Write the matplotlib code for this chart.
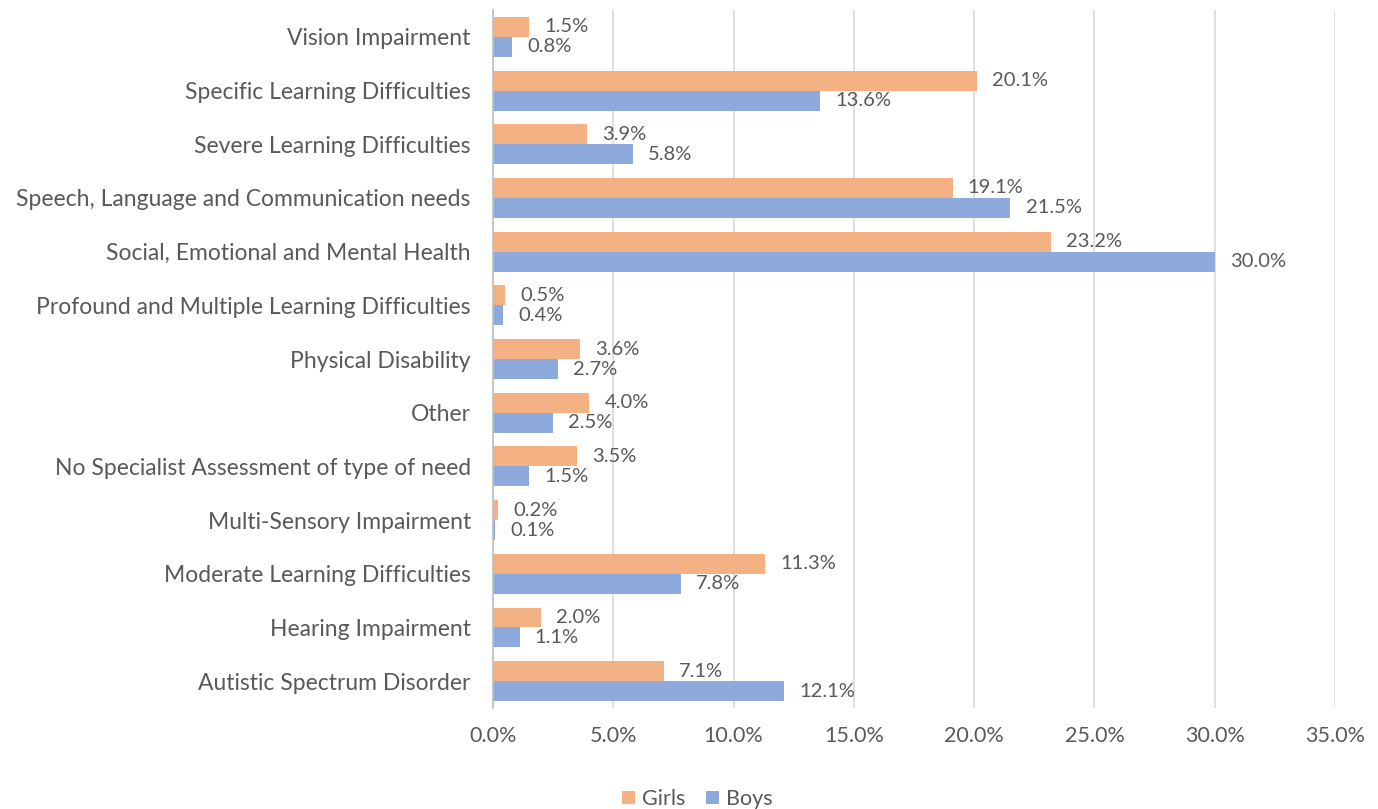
import numpy as np
import matplotlib.pyplot as plt

# 유형별 비율 (위에서 아래 순서)
categories = ['Vision Impairment', 'Specific Learning Difficulties', 'Severe Learning Difficulties',
              'Speech, Language and Communication needs', 'Social, Emotional and Mental Health',
              'Profound and Multiple Learning Difficulties', 'Physical Disability', 'Other',
              'No Specialist Assessment of type of need', 'Multi-Sensory Impairment',
              'Moderate Learning Difficulties', 'Hearing Impairment', 'Autistic Spectrum Disorder']
girls = [1.5, 20.1, 3.9, 19.1, 23.2, 0.5, 3.6, 4.0, 3.5, 0.2, 11.3, 2.0, 7.1]
boys = [0.8, 13.6, 5.8, 21.5, 30.0, 0.4, 2.7, 2.5, 1.5, 0.1, 7.8, 1.1, 12.1]
xticks = [0, 5, 10, 15, 20, 25, 30, 35]

plt.rcParams['font.family'] = ['Lato', 'DejaVu Sans']
text_c = '#595959'
girl_c = '#F4B183'
boy_c = '#8EA9DB'

fig = plt.figure(figsize=(13.78, 8.09), dpi=100)
ax = fig.add_axes([0.3578, 0.1248, 0.611, 0.8628])

y = np.arange(len(categories))
h = 0.372
ax.barh(y - h / 2, girls, height=h, color=girl_c, label='Girls')
ax.barh(y + h / 2, boys, height=h, color=boy_c, label='Boys')

# 막대 끝에 값 표시
for i in range(len(categories)):
    ax.annotate(f'{girls[i]:.1f}%', (girls[i], y[i] - h / 2), xytext=(11, 0), textcoords='offset points',
                va='center', ha='left', fontsize=14.5, color=text_c)
    ax.annotate(f'{boys[i]:.1f}%', (boys[i], y[i] + h / 2), xytext=(11, 0), textcoords='offset points',
                va='center', ha='left', fontsize=14.5, color=text_c)

ax.set_xlim(0, 35)
ax.set_ylim(len(categories) - 0.5, -0.5)
ax.set_yticks(y)
ax.set_yticklabels(categories, fontsize=16.5, color=text_c)
ax.set_xticks(xticks)
ax.set_xticklabels([f'{t:.1f}%' for t in xticks], fontsize=15.5, color=text_c)
ax.tick_params(length=0)
ax.tick_params(axis='y', pad=16)
ax.tick_params(axis='x', pad=13)
ax.grid(axis='x', color='#D9D9D9', linewidth=1.2)
ax.set_axisbelow(True)
for s in ['top', 'right', 'bottom']:
    ax.spines[s].set_visible(False)
ax.spines['left'].set_color('#BFBFBF')
ax.spines['left'].set_linewidth(1.2)

leg = fig.legend(loc='lower center', bbox_to_anchor=(0.506, -0.024), ncol=2, frameon=False,
                 fontsize=15.5, handlelength=0.6, handleheight=0.6, columnspacing=1.0, handletextpad=0.3)
for t in leg.get_texts():
    t.set_color(text_c)

plt.savefig('out.png', dpi=100)
